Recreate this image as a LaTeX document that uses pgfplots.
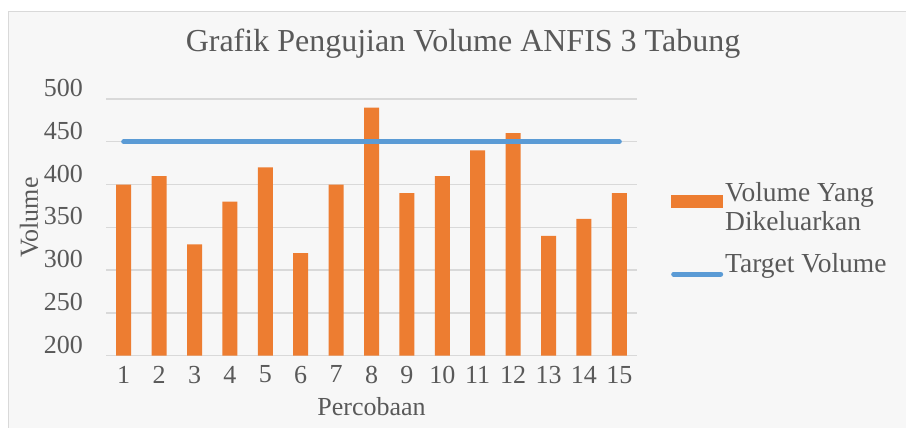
\documentclass[border=0pt]{standalone}
\usepackage{fontspec}
\setmainfont{Liberation Serif}
\usepackage{pgfplots}
\pgfplotsset{compat=1.18}
\definecolor{bg}{HTML}{F7F7F7}
\definecolor{framec}{HTML}{D9D9D9}
\definecolor{txt}{HTML}{595959}
\definecolor{barc}{HTML}{ED7D31}
\definecolor{tgt}{HTML}{5B9BD5}
\definecolor{gridc}{HTML}{D9D9D9}
\begin{document}
\begin{tikzpicture}
\useasboundingbox (0pt,0pt) rectangle (906pt,-428pt);
\fill[white] (0pt,0pt) rectangle (906pt,-428pt);
\fill[bg] (8pt,-12pt) rectangle (906pt,-428pt);
\draw[framec, line width=1pt] (8pt,-428pt) -- (8pt,-12pt) -- (906pt,-12pt);
\node[text=txt, font=\fontsize{32}{38}\selectfont, anchor=base, inner sep=0pt] at (463pt,-52pt) {Grafik Pengujian Volume ANFIS 3 Tabung};
\begin{axis}[
  at={(106pt,-355.7pt)}, anchor=south west,
  scale only axis, width=531pt, height=256.7pt,
  xmin=0.5, xmax=15.5, ymin=200, ymax=500,
  ytick={200,250,...,500}, xtick={1,...,15},
  /pgf/number format/assume math mode=true,
  ymajorgrids, grid style={gridc, line width=1.3pt},
  axis line style={draw=none},
  major tick length=0pt,
  tick label style={font=\fontsize{26}{30}\selectfont, text=txt},
  yticklabel style={inner sep=0pt, anchor=base east, xshift=-23pt, yshift=2.5pt},
  xticklabel style={inner sep=0pt, anchor=north, yshift=-10pt},
  every axis x label/.style={at={(axis description cs:0.5,0)}, anchor=base, yshift=-59.3pt, inner sep=0pt, font=\fontsize{26}{30}\selectfont, text=txt},
  every axis y label/.style={at={(axis description cs:0,0.538)}, rotate=90, anchor=base, yshift=68pt, inner sep=0pt, font=\fontsize{26}{30}\selectfont, text=txt},
  xlabel={Percobaan}, ylabel={Volume},
  legend style={at={(axis description cs:1,1)}, anchor=north west, xshift=34pt, yshift=-81pt, draw=none, fill=none, inner sep=0pt, font=\fontsize{27.5}{29}\selectfont, text=txt, row sep=18pt, cells={anchor=west, align=left}},
]
\addplot[ybar, bar width=15pt, bar shift=0pt, fill=barc, draw=none,
  legend image code/.code={\fill[barc] (0pt,-1pt) rectangle (52pt,12pt);}]
  coordinates {(1,400) (2,410) (3,330) (4,380) (5,420) (6,320) (7,400) (8,490) (9,390) (10,410) (11,440) (12,460) (13,340) (14,360) (15,390)};
\addlegendentry{Volume Yang\\Dikeluarkan}
\addplot[tgt, line width=5pt, line cap=round,
  legend image code/.code={\draw[tgt, line width=5pt, line cap=round] (2.5pt,-10pt) -- (49.5pt,-10pt);}]
  coordinates {(1,450) (15,450)};
\addlegendentry{Target Volume}
\end{axis}
\end{tikzpicture}
\end{document}
